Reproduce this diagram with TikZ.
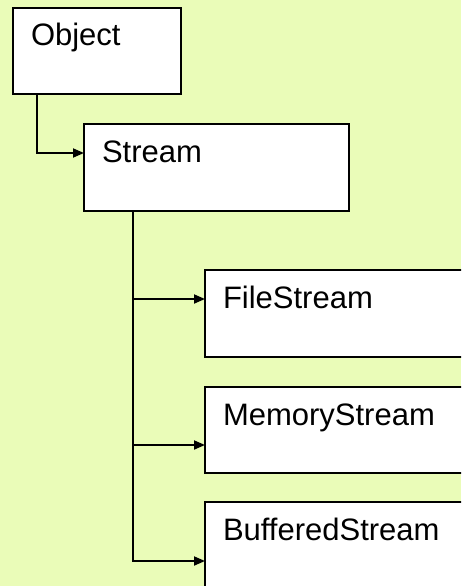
\documentclass[tikz,border=0pt]{standalone}
\usepackage{fontspec}
\setmainfont{Liberation Sans}
\usepackage{xcolor}
\usetikzlibrary{arrows.meta, positioning}
\definecolor{PaleLime}{HTML}{EAFCB8}

\begin{document}
\begin{tikzpicture}[x=1pt, y=-1pt, >={Triangle[length=11pt,width=9pt]}, every node/.style={font=\fontsize{31}{36}\selectfont}]
    \tikzstyle{cls} = [rectangle, draw=black, fill=white, line width=2pt, anchor=north west, outer sep=0pt, inner xsep=18pt, inner ysep=16pt, align=left, text height=22pt]
    \tikzstyle{line} = [draw, ->, line width=1.8pt, black]

    \fill [PaleLime] (0,0) rectangle (461,586);
    \clip (0,0) rectangle (461,586);

    \node [cls, text width=132pt, text depth=32pt] (object) at (13,8) {Object};
    \node [cls, text width=229pt, text depth=33pt] (stream) at (84,124) {Stream};
    \node [cls, text width=250pt, text depth=33pt] (filestream) at (205,270) {FileStream};
    \node [cls, text width=250pt, text depth=32pt] (memorystream) at (205,387) {MemoryStream};
    \node [cls, text width=250pt, text depth=48pt] (bufferedstream) at (205,502) {BufferedStream};

    % inheritance lines
    \coordinate (trunk) at ([xshift=49pt]stream.south west);
    \coordinate (fs in) at ([yshift=-29pt]filestream.north west);
    \coordinate (ms in) at ([yshift=-58pt]memorystream.north west);
    \coordinate (bs in) at ([yshift=-59pt]bufferedstream.north west);

    \path [line] ([xshift=24pt]object.south west) |- ([yshift=-29pt]stream.north west);
    \path [line] (trunk) |- (bs in);
    \path [line] (trunk |- fs in) -- (fs in);
    \path [line] (trunk |- ms in) -- (ms in);
\end{tikzpicture}
\end{document}
